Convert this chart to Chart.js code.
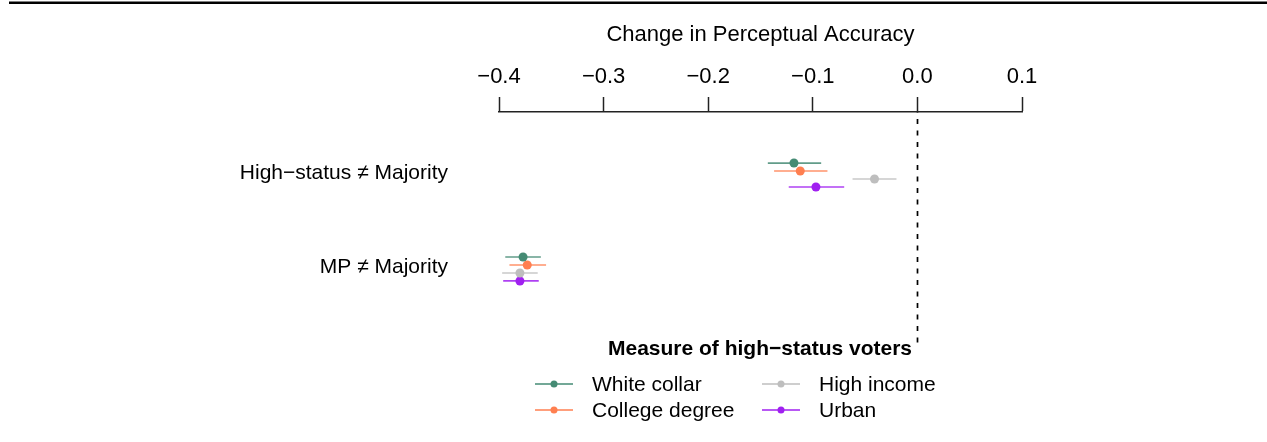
<!DOCTYPE html>
<html lang="en">
<head>
    <meta charset="UTF-8">
    <title>Change in Perceptual Accuracy</title>
    <style>
        html, body { margin: 0; padding: 0; background: #fff; }
        #wrap { width: 1267px; height: 442px; }
    </style>
</head>
<body>
    <div id="wrap"><canvas id="accuracyChart"></canvas></div>

    <script src="https://cdn.jsdelivr.net/npm/chart.js"></script>
    <script>
        // categories (top to bottom) and the four status measures
        const categories = ['High\u2212status \u2260 Majority', 'MP \u2260 Majority'];
        const seriesNames = ['White collar', 'College degree', 'High income', 'Urban'];
        const seriesColors = ['#458B74', '#FF7F50', '#BEBEBE', '#A020F0'];
        const xTicks = [-0.4, -0.3, -0.2, -0.1, 0.0, 0.1];

        // point estimates, one value per category
        const whiteCollar = [-0.118, -0.377];
        const collegeDegree = [-0.112, -0.373];
        const highIncome = [-0.041, -0.380];
        const urban = [-0.097, -0.380];

        // confidence interval ends
        const whiteCollarLo = [-0.143, -0.394];
        const whiteCollarHi = [-0.092, -0.360];
        const collegeDegreeLo = [-0.137, -0.390];
        const collegeDegreeHi = [-0.086, -0.355];
        const highIncomeLo = [-0.062, -0.397];
        const highIncomeHi = [-0.020, -0.363];
        const urbanLo = [-0.123, -0.396];
        const urbanHi = [-0.070, -0.362];

        const estimates = [whiteCollar, collegeDegree, highIncome, urban];
        const lowers = [whiteCollarLo, collegeDegreeLo, highIncomeLo, urbanLo];
        const uppers = [whiteCollarHi, collegeDegreeHi, highIncomeHi, urbanHi];

        // vertical dodge of the four measures inside a category
        const dodge = [-0.106, -0.021, 0.064, 0.149];

        const FONT = '"Liberation Sans", Arial, Helvetica, sans-serif';
        Chart.defaults.font.family = FONT;
        Chart.defaults.font.size = 21;
        Chart.defaults.color = '#000';

        const datasets = seriesNames.map((name, k) => ({
            label: name,
            data: estimates[k].map((v, i) => ({ x: v, y: i + dodge[k] })),
            backgroundColor: seriesColors[k],
            borderColor: seriesColors[k],
            pointRadius: 4.5,
            pointBorderWidth: 0,
            pointHoverRadius: 4.5
        }));

        // horizontal interval lines under the points
        const errorBars = {
            id: 'errorBars',
            beforeDatasetsDraw(chart) {
                const { ctx, scales: { x, y } } = chart;
                ctx.save();
                ctx.lineWidth = 1.7;
                seriesNames.forEach((name, k) => {
                    ctx.strokeStyle = seriesColors[k];
                    ctx.globalAlpha = 0.85;
                    categories.forEach((c, i) => {
                        const py = y.getPixelForValue(i + dodge[k]);
                        ctx.beginPath();
                        ctx.moveTo(x.getPixelForValue(lowers[k][i]), py);
                        ctx.lineTo(x.getPixelForValue(uppers[k][i]), py);
                        ctx.stroke();
                    });
                });
                ctx.restore();
            }
        };

        // dashed zero line, legend and the frame line on top
        const decorations = {
            id: 'decorations',
            beforeDraw(chart) {
                const { ctx } = chart;
                ctx.save();
                ctx.fillStyle = '#fff';
                ctx.fillRect(0, 0, chart.width, chart.height);
                ctx.fillStyle = '#000';
                ctx.fillRect(9, 1.5, chart.width - 9, 2.5);
                ctx.restore();
            },
            beforeDatasetsDraw(chart) {
                const { ctx, chartArea, scales: { x } } = chart;
                const px = Math.round(x.getPixelForValue(0)) + 0.5;
                ctx.save();
                ctx.strokeStyle = '#000';
                ctx.lineWidth = 1.7;
                ctx.setLineDash([5, 6.5]);
                ctx.lineDashOffset = -7;
                ctx.beginPath();
                ctx.moveTo(px, chartArea.top);
                ctx.lineTo(px, chartArea.bottom);
                ctx.stroke();
                ctx.restore();
            },
            afterDraw(chart) {
                const { ctx } = chart;
                ctx.save();
                ctx.fillStyle = '#000';
                ctx.textBaseline = 'middle';
                ctx.textAlign = 'center';
                ctx.font = 'bold 21px ' + FONT;
                ctx.fillText('Measure of high\u2212status voters', 760, 349);

                ctx.font = '21px ' + FONT;
                ctx.textAlign = 'left';
                const cols = [535, 762];
                const rows = [384, 410];
                seriesNames.forEach((name, k) => {
                    const cx = cols[Math.floor(k / 2)];
                    const cy = rows[k % 2];
                    ctx.strokeStyle = seriesColors[k];
                    ctx.fillStyle = seriesColors[k];
                    ctx.lineWidth = 1.7;
                    ctx.beginPath();
                    ctx.moveTo(cx, cy);
                    ctx.lineTo(cx + 38, cy);
                    ctx.stroke();
                    ctx.beginPath();
                    ctx.arc(cx + 19, cy, 3.5, 0, Math.PI * 2);
                    ctx.fill();
                    ctx.fillStyle = '#000';
                    ctx.fillText(name, cx + 57, cy + 1);
                });
                ctx.restore();
            }
        };

        const ctx = document.getElementById('accuracyChart').getContext('2d');
        const accuracyChart = new Chart(ctx, {
            type: 'scatter',
            data: { datasets: datasets },
            options: {
                responsive: true,
                maintainAspectRatio: false,
                animation: false,
                layout: { padding: { left: 0, right: 245, top: 0, bottom: 99 } },
                scales: {
                    x: {
                        position: 'top',
                        min: -0.4,
                        max: 0.1,
                        afterBuildTicks: (scale) => { scale.ticks = xTicks.map(v => ({ value: v })); },
                        afterFit: (scale) => { scale.height = 112; },
                        ticks: {
                            padding: 7,
                            font: { size: 22 },
                            callback: (v) => (v < 0 ? '\u2212' : '') + Math.abs(v).toFixed(1)
                        },
                        grid: {
                            drawOnChartArea: false,
                            tickLength: 15,
                            tickWidth: 1.5,
                            color: '#222'
                        },
                        border: { display: true, color: '#222', width: 1.5 },
                        title: {
                            display: true,
                            text: 'Change in Perceptual Accuracy',
                            padding: { top: 22, bottom: 0 },
                            font: { size: 22 }
                        }
                    },
                    y: {
                        reverse: true,
                        min: -0.649,
                        max: 1.809,
                        afterBuildTicks: (scale) => { scale.ticks = categories.map((c, i) => ({ value: i })); },
                        afterFit: (scale) => { scale.width = 499; },
                        ticks: {
                            padding: 43,
                            callback: (v) => categories[v]
                        },
                        grid: { display: false },
                        border: { display: false }
                    }
                },
                plugins: {
                    legend: { display: false },
                    tooltip: { enabled: false }
                }
            },
            plugins: [errorBars, decorations]
        });
    </script>
</body>
</html>
